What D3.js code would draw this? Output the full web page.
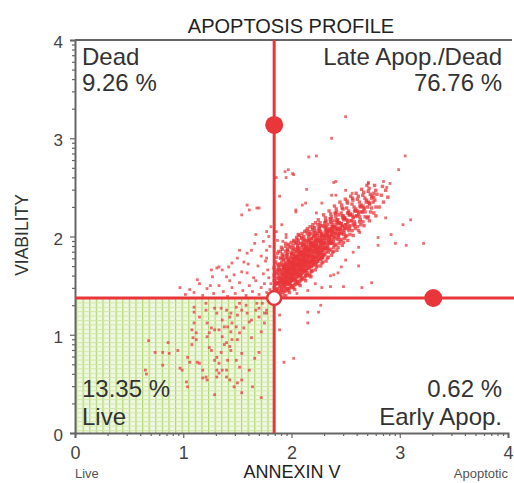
<!DOCTYPE html>
<html><head><meta charset="utf-8">
<script src="https://cdn.jsdelivr.net/npm/d3@7"></script>
<style>html,body{margin:0;padding:0;background:#fff;}svg{display:block;}</style>
</head><body>
<svg id="c" width="514" height="483"></svg>
<script>
const title = "APOPTOSIS PROFILE";
const xLabel = "ANNEXIN V";
const yLabel = "VIABILITY";
const xEndLabels = ["Live", "Apoptotic"];
const majorTicks = [0,1,2,3,4];
const quadGate = {x:1.84, y:1.374};
const handles = [[1.84,3.135],[3.31,1.374]];
const quadLabels = [
  {name:"Dead", pct:"9.26 %", pos:"tl"},
  {name:"Late Apop./Dead", pct:"76.76 %", pos:"tr"},
  {name:"Live", pct:"13.35 %", pos:"bl"},
  {name:"Early Apop.", pct:"0.62 %", pos:"br"}
];
const corePts = [
[1.84,1.42],[1.85,1.51],[1.86,1.46],[1.87,1.58],[1.84,1.55],[1.88,1.40],[1.89,1.49],[1.86,1.62],[1.85,1.44],[1.88,1.53],[1.87,1.47],[1.89,1.60],[1.84,1.48],[1.90,1.43],[1.86,1.52],[1.88,1.66],[1.85,1.39],[1.89,1.55],[1.87,1.41],[1.90,1.51],[1.84,1.61],[1.86,1.45],[1.88,1.57],[1.89,1.45],[1.87,1.53],
[1.91,1.46],[1.92,1.58],[1.93,1.51],[1.94,1.67],[1.91,1.62],[1.92,1.43],[1.93,1.55],[1.94,1.49],[1.95,1.60],[1.91,1.53],[1.92,1.70],[1.93,1.40],[1.94,1.57],[1.95,1.47],[1.91,1.66],[1.92,1.52],[1.93,1.63],[1.94,1.44],[1.95,1.55],[1.91,1.49],[1.92,1.61],[1.93,1.48],[1.94,1.72],[1.95,1.52],[1.92,1.55],[1.93,1.69],[1.94,1.53],[1.91,1.57],[1.95,1.65],[1.93,1.45],
[1.96,1.51],[1.97,1.64],[1.98,1.56],[1.99,1.73],[1.96,1.68],[1.97,1.45],[1.98,1.60],[1.99,1.53],[2.00,1.66],[1.96,1.58],[1.97,1.76],[1.98,1.47],[1.99,1.62],[2.00,1.55],[1.96,1.71],[1.97,1.57],[1.98,1.69],[1.99,1.49],[2.00,1.61],[1.96,1.54],[1.97,1.67],[1.98,1.52],[1.99,1.79],[2.00,1.58],[1.97,1.61],[1.98,1.74],[1.99,1.58],[1.96,1.63],[2.00,1.72],[1.98,1.43],[1.97,1.53],[1.99,1.67],[1.96,1.46],[2.00,1.50],[1.98,1.64],
[2.01,1.55],[2.02,1.69],[2.03,1.61],[2.04,1.79],[2.01,1.73],[2.02,1.48],[2.03,1.65],[2.04,1.57],[2.05,1.71],[2.01,1.62],[2.02,1.82],[2.03,1.51],[2.04,1.67],[2.05,1.59],[2.01,1.77],[2.02,1.61],[2.03,1.74],[2.04,1.52],[2.05,1.66],[2.01,1.58],[2.02,1.72],[2.03,1.56],[2.04,1.85],[2.05,1.63],[2.02,1.66],[2.03,1.80],[2.04,1.62],[2.01,1.68],[2.05,1.77],[2.03,1.46],[2.02,1.57],[2.04,1.72],[2.01,1.50],[2.05,1.54],[2.03,1.69],
[2.06,1.59],[2.07,1.73],[2.08,1.65],[2.09,1.83],[2.06,1.77],[2.07,1.52],[2.08,1.69],[2.09,1.61],[2.10,1.75],[2.06,1.66],[2.07,1.87],[2.08,1.55],[2.09,1.71],[2.10,1.63],[2.06,1.81],[2.07,1.65],[2.08,1.78],[2.09,1.56],[2.10,1.70],[2.06,1.62],[2.07,1.76],[2.08,1.60],[2.09,1.89],[2.10,1.67],[2.07,1.70],[2.08,1.84],[2.09,1.66],[2.06,1.72],[2.10,1.81],[2.08,1.50],[2.07,1.61],[2.09,1.76],[2.06,1.54],[2.10,1.58],[2.08,1.73],
[2.11,1.64],[2.12,1.78],[2.13,1.70],[2.14,1.88],[2.11,1.82],[2.12,1.57],[2.13,1.74],[2.14,1.66],[2.15,1.80],[2.11,1.71],[2.12,1.92],[2.13,1.60],[2.14,1.76],[2.15,1.68],[2.11,1.86],[2.12,1.70],[2.13,1.83],[2.14,1.61],[2.15,1.75],[2.11,1.67],[2.12,1.81],[2.13,1.65],[2.14,1.94],[2.15,1.72],[2.12,1.75],[2.13,1.89],[2.14,1.71],[2.11,1.77],[2.15,1.86],[2.13,1.55],[2.12,1.66],[2.14,1.81],
[2.16,1.68],[2.17,1.82],[2.18,1.74],[2.19,1.92],[2.16,1.86],[2.17,1.61],[2.18,1.78],[2.19,1.70],[2.20,1.84],[2.16,1.75],[2.17,1.96],[2.18,1.64],[2.19,1.80],[2.20,1.72],[2.16,1.90],[2.17,1.74],[2.18,1.87],[2.19,1.65],[2.20,1.79],[2.16,1.71],[2.17,1.85],[2.18,1.69],[2.19,1.98],[2.20,1.76],[2.17,1.79],[2.18,1.93],[2.19,1.75],[2.16,1.81],[2.20,1.90],[2.18,1.59],
[2.21,1.73],[2.22,1.87],[2.23,1.79],[2.24,1.97],[2.21,1.91],[2.22,1.66],[2.23,1.83],[2.24,1.75],[2.25,1.89],[2.21,1.80],[2.22,2.01],[2.23,1.69],[2.24,1.85],[2.25,1.77],[2.21,1.95],[2.22,1.79],[2.23,1.92],[2.24,1.70],[2.25,1.84],[2.21,1.76],[2.22,1.90],[2.23,1.74],[2.24,2.03],[2.25,1.81],[2.23,1.86],
[2.26,1.77],[2.27,1.91],[2.28,1.83],[2.29,2.01],[2.26,1.95],[2.27,1.70],[2.28,1.87],[2.29,1.79],[2.30,1.93],[2.26,1.84],[2.27,2.05],[2.28,1.73],[2.29,1.89],[2.30,1.81],[2.26,1.99],[2.27,1.83],[2.28,1.96],[2.29,1.74],[2.30,1.88],[2.26,1.80],[2.27,1.94],[2.28,1.78],
[2.31,1.82],[2.32,1.96],[2.33,1.88],[2.34,2.06],[2.31,2.00],[2.32,1.75],[2.33,1.92],[2.34,1.84],[2.35,1.98],[2.31,1.89],[2.32,2.10],[2.33,1.78],[2.34,1.94],[2.35,1.86],[2.31,2.04],[2.32,1.88],[2.33,2.01],[2.34,1.79],[2.35,1.93],[2.32,1.85],
[2.36,1.87],[2.37,2.01],[2.38,1.93],[2.39,2.10],[2.36,2.05],[2.37,1.81],[2.38,1.97],[2.39,1.89],[2.40,2.03],[2.36,1.94],[2.37,2.14],[2.38,1.84],[2.39,1.99],[2.40,1.91],[2.36,2.08],[2.37,1.93],[2.38,2.06],[2.39,1.85],
[2.41,1.92],[2.42,2.05],[2.43,1.97],[2.44,2.14],[2.41,2.09],[2.42,1.86],[2.43,2.01],[2.44,1.93],[2.45,2.07],[2.41,1.98],[2.42,2.17],[2.43,1.89],[2.44,2.03],[2.45,1.95],[2.41,2.12],[2.43,2.08],
[2.46,1.97],[2.47,2.10],[2.48,2.02],[2.49,2.18],[2.46,2.13],[2.47,1.91],[2.48,2.06],[2.49,1.98],[2.50,2.12],[2.46,2.03],[2.47,2.21],[2.48,1.94],[2.49,2.08],[2.50,2.00],
[2.51,2.01],[2.52,2.14],[2.53,2.06],[2.54,2.22],[2.51,2.17],[2.52,1.96],[2.53,2.10],[2.54,2.02],[2.55,2.16],[2.51,2.08],[2.52,2.24],[2.54,2.11],
[2.56,2.06],[2.57,2.19],[2.58,2.11],[2.59,2.26],[2.56,2.22],[2.57,2.01],[2.58,2.15],[2.59,2.08],[2.60,2.21],[2.57,2.12],
[2.61,2.10],[2.62,2.23],[2.63,2.15],[2.64,2.30],[2.61,2.26],[2.62,2.06],[2.63,2.20],[2.64,2.12],[2.65,2.25],
[2.66,2.15],[2.67,2.28],[2.68,2.20],[2.69,2.35],[2.66,2.31],[2.67,2.11],[2.68,2.25],[2.70,2.19],
[2.71,2.20],[2.72,2.33],[2.73,2.25],[2.74,2.39],[2.71,2.35],[2.72,2.16],[2.74,2.29],
[2.76,2.24],[2.77,2.37],[2.78,2.30],[2.79,2.43],[2.76,2.40],[2.78,2.21],
[2.81,2.30],[2.83,2.42],[2.85,2.35],[2.87,2.47],[2.84,2.51],[2.89,2.40]
];
const corePts2 = [
[1.842,1.59],[1.868,1.66],[1.853,1.74],[1.877,1.70],[1.838,1.68],[1.862,1.79],[1.881,1.62],[1.849,1.55],[1.871,1.83],[1.857,1.64],
[1.893,1.64],[1.917,1.79],[1.904,1.57],[1.928,1.71],[1.897,1.85],[1.921,1.61],[1.909,1.74],[1.886,1.69],[1.932,1.67],[1.913,1.82],[1.899,1.54],[1.924,1.77],[1.907,1.89],[1.891,1.72],[1.919,1.66],
[1.943,1.69],[1.967,1.84],[1.954,1.62],[1.978,1.76],[1.947,1.90],[1.971,1.66],[1.959,1.79],[1.936,1.54],[1.982,1.72],[1.963,1.87],[1.949,1.59],[1.974,1.74],[1.957,1.82],[1.941,1.64],[1.969,1.70],[1.952,1.78],[1.977,1.52],[1.945,1.85],[1.961,1.67],[1.972,1.92],
[1.993,1.73],[2.017,1.88],[2.004,1.66],[2.028,1.80],[1.997,1.94],[2.021,1.70],[2.009,1.83],[1.986,1.58],[2.032,1.76],[2.013,1.91],[1.999,1.63],[2.024,1.78],[2.007,1.86],[1.991,1.68],[2.019,1.74],[2.002,1.82],[2.027,1.56],[1.995,1.89],[2.011,1.71],[2.022,1.96],[2.015,1.65],[2.005,1.75],
[2.043,1.78],[2.067,1.93],[2.054,1.71],[2.078,1.85],[2.047,1.99],[2.071,1.75],[2.059,1.88],[2.036,1.63],[2.082,1.81],[2.063,1.96],[2.049,1.68],[2.074,1.83],[2.057,1.91],[2.041,1.73],[2.069,1.79],[2.052,1.87],[2.077,1.61],[2.045,1.94],[2.061,1.76],[2.072,2.01],[2.065,1.70],[2.055,1.80],
[2.093,1.82],[2.117,1.97],[2.104,1.75],[2.128,1.89],[2.097,2.03],[2.121,1.79],[2.109,1.92],[2.086,1.67],[2.132,1.85],[2.113,2.00],[2.099,1.72],[2.124,1.87],[2.107,1.95],[2.091,1.77],[2.119,1.83],[2.102,1.91],[2.127,1.65],[2.095,1.98],[2.111,1.80],[2.122,2.05],[2.115,1.74],[2.105,1.84],
[2.143,1.87],[2.167,2.02],[2.154,1.80],[2.178,1.94],[2.147,2.08],[2.171,1.84],[2.159,1.97],[2.136,1.72],[2.182,1.90],[2.163,2.05],[2.149,1.77],[2.174,1.92],[2.157,2.00],[2.141,1.82],[2.169,1.88],[2.152,1.96],[2.177,1.70],[2.145,2.03],[2.161,1.85],[2.172,2.10],
[2.193,1.91],[2.217,2.06],[2.204,1.84],[2.228,1.98],[2.197,2.12],[2.221,1.88],[2.209,2.01],[2.186,1.76],[2.232,1.94],[2.213,2.09],[2.199,1.81],[2.224,1.96],[2.207,2.04],[2.191,1.86],[2.219,1.92],[2.202,2.00],[2.227,1.74],[2.195,2.07],[2.211,1.89],[2.222,2.14],
[2.243,1.96],[2.267,2.11],[2.254,1.89],[2.278,2.03],[2.247,2.17],[2.271,1.93],[2.259,2.06],[2.236,1.81],[2.282,1.99],[2.263,2.14],[2.249,1.86],[2.274,2.01],[2.257,2.09],[2.241,1.91],[2.269,1.97],[2.252,2.05],[2.277,1.79],[2.245,2.12],
[2.293,2.01],[2.317,2.16],[2.304,1.94],[2.328,2.08],[2.297,2.22],[2.321,1.98],[2.309,2.11],[2.286,1.86],[2.332,2.04],[2.313,2.19],[2.299,1.91],[2.324,2.06],[2.307,2.14],[2.291,1.96],[2.319,2.02],[2.302,2.10],
[2.343,2.05],[2.367,2.20],[2.354,1.98],[2.378,2.12],[2.347,2.26],[2.371,2.02],[2.359,2.15],[2.336,1.90],[2.382,2.08],[2.363,2.23],[2.349,1.95],[2.374,2.10],[2.357,2.18],[2.341,2.00],[2.369,2.06],
[2.393,2.10],[2.417,2.25],[2.404,2.03],[2.428,2.17],[2.397,2.31],[2.421,2.07],[2.409,2.20],[2.386,1.95],[2.432,2.13],[2.413,2.28],[2.399,2.00],[2.424,2.15],[2.407,2.23],[2.391,2.05],
[2.443,2.14],[2.467,2.29],[2.454,2.07],[2.478,2.21],[2.447,2.35],[2.471,2.11],[2.459,2.24],[2.436,1.99],[2.482,2.17],[2.463,2.32],[2.449,2.04],[2.474,2.19],
[2.493,2.19],[2.517,2.34],[2.504,2.12],[2.528,2.26],[2.497,2.38],[2.521,2.16],[2.509,2.29],[2.486,2.04],[2.532,2.22],[2.513,2.36],[2.499,2.09],[2.524,2.24],
[2.543,2.23],[2.567,2.37],[2.554,2.16],[2.578,2.30],[2.547,2.41],[2.571,2.20],[2.559,2.33],[2.536,2.08],[2.582,2.26],[2.563,2.39],
[2.593,2.28],[2.617,2.41],[2.604,2.21],[2.628,2.35],[2.597,2.44],[2.621,2.25],[2.609,2.38],[2.586,2.13],[2.632,2.31],
[2.643,2.32],[2.667,2.45],[2.654,2.25],[2.678,2.39],[2.647,2.48],[2.671,2.29],[2.659,2.42],[2.636,2.17],
[2.693,2.37],[2.717,2.49],[2.704,2.30],[2.728,2.43],[2.697,2.52],[2.721,2.34],[2.709,2.46],
[2.743,2.41],[2.767,2.52],[2.754,2.35],[2.778,2.47],[2.761,2.44]
];
const corePts3 = [
[1.903,1.47],[2.087,1.93],[1.958,1.81],[2.231,1.78],[2.146,1.63],[1.927,1.76],[2.312,2.07],[2.054,1.52],[2.178,2.03],[1.986,1.69],[2.269,1.90],[2.113,1.81],[1.944,1.58],[2.391,2.16],[2.029,1.87],[2.205,1.71],[1.889,1.66],[2.161,1.94],[2.347,1.95],[2.071,1.60],[1.968,1.47],[2.253,2.08],[2.124,1.69],[2.018,1.77],[2.438,2.22],[1.915,1.87],[2.196,1.86],[2.283,1.79],[2.062,2.02],[1.951,1.72],[2.137,2.06],[2.374,2.04],[2.008,1.48],[2.227,1.97],[1.896,1.58],[2.169,1.72],[2.095,1.57],[2.302,1.98],[1.979,1.90],[2.046,1.64],[2.415,2.08],[2.188,1.65],[1.934,1.51],[2.258,1.82],[2.117,1.88],[2.033,1.71],[2.476,2.28],[1.961,1.63],[2.213,1.91],[2.081,1.76],[2.336,2.12],[1.907,1.71],[2.152,1.79],[2.024,1.95],[2.291,1.86],[1.993,1.56],[2.239,2.01],[2.068,1.85],[2.361,2.01],[1.918,1.63],[2.133,1.60],[2.184,1.98],[2.011,1.62],[2.457,2.13],[1.946,1.93],[2.276,2.02],[2.104,1.66],[2.221,1.84],[2.057,1.89],[1.973,1.77],[2.327,1.88],[2.141,1.91],[1.882,1.52],[2.196,2.09],[2.038,1.55],[2.403,2.24],[1.939,1.68],[2.264,1.95],[2.092,1.99],[2.159,1.68],[1.999,1.83],[2.317,2.15],[2.076,1.68],[2.245,1.75],[1.956,1.54],[2.127,1.96],[2.381,2.09],[2.016,1.66],[2.209,1.77],[1.924,1.81],[2.286,1.93],[2.099,1.85],[2.173,1.87],[2.041,1.80],[2.432,2.02],[1.984,1.62],[2.234,1.88],[2.115,1.73],[1.963,1.86],[2.352,2.07],[2.058,1.75],[2.192,1.74],[1.911,1.55],[2.297,1.82],[2.083,1.63],[2.148,1.85],[2.022,1.59],[2.488,2.19],[1.948,1.74],[2.261,1.87],[2.107,1.92],[2.181,1.81],[2.035,1.93],[2.339,2.00],[1.976,1.52],[2.216,2.04],[2.066,1.72],[2.421,2.15],[1.898,1.78],[2.135,1.75],[2.271,1.77],[2.003,1.79],[2.166,1.60],[2.308,1.93],[1.937,1.60],[2.089,1.71],[2.247,1.95],[2.051,1.97],[2.199,1.94],[1.989,1.74],[2.365,2.18],[2.121,1.64],[1.928,1.69],[2.282,2.11],[2.073,1.82],[2.155,1.73],[2.013,1.70],[2.447,2.09],[1.967,1.65],[2.224,1.72],[2.109,1.78],[2.331,2.03],[2.044,1.84],[2.186,1.91]
];
const lateScatter = [
[2.50,3.22],[2.37,3.00],[2.16,2.81],[2.23,2.82],[3.05,2.82],[2.99,2.68],[1.94,2.66],[1.97,2.68],[2.01,2.64],[2.41,2.56],[2.14,2.48],[1.89,2.41],[2.71,2.55],[2.85,2.56],[2.91,2.54],[2.88,2.50],[1.86,2.60],
[2.10,2.32],[2.04,2.25],[2.28,2.34],[2.37,2.42],[2.87,2.19],[3.03,2.12],[3.10,2.17],[2.80,1.99],[2.80,1.91],[2.92,2.02],[2.96,1.93],[3.06,1.91],[2.63,2.04],[2.57,1.84],[2.62,1.89],[2.62,1.70],[2.74,1.53],[2.65,1.48],[2.48,1.49],[2.36,1.49],[2.28,1.48],[2.50,1.76],[2.46,1.69],[2.39,1.61],[3.22,1.93],[2.36,1.60],[2.43,1.63],
[2.15,1.45],[2.22,1.52],[2.05,1.42],[1.95,1.40],[1.88,1.85],[1.92,1.95],[1.86,2.05],[1.90,1.78],[1.95,2.02],[1.87,1.72],[1.91,2.12],[1.87,1.96],[1.95,1.99],[1.95,2.60],[2.02,2.63],[2.04,2.27],[2.13,2.34],[2.23,2.24],[2.39,2.55],[2.41,2.42],[2.50,2.47],[2.56,2.44],[2.71,2.54]
];
const deadPts = [
[1.59,2.32],[1.61,2.27],[1.68,2.29],[1.54,2.22],[1.67,2.02],[1.66,1.93],[1.63,1.86],[1.52,1.86],[1.59,1.83],[1.56,1.74],[1.50,1.78],[1.45,1.73],[1.42,1.69],[1.26,1.66],[1.31,1.68],[1.36,1.66],[1.27,1.59],[1.13,1.56],[1.40,1.59],[1.47,1.61],[1.54,1.64],[1.59,1.63],[0.97,1.48],[1.06,1.46],[1.70,2.29],[1.33,1.69],
[1.02,1.41],[1.10,1.43],[1.18,1.40],[1.22,1.47],[1.28,1.42],[1.33,1.50],[1.37,1.44],[1.41,1.39],[1.45,1.48],[1.48,1.42],[1.52,1.53],[1.55,1.45],[1.58,1.40],[1.61,1.50],[1.64,1.44],[1.67,1.55],[1.70,1.41],[1.72,1.48],[1.75,1.52],[1.77,1.43],[1.79,1.58],[1.80,1.46],[1.74,1.62],[1.69,1.70],[1.76,1.75],[1.78,1.66],[1.81,1.52],[1.72,1.80],[1.80,1.90],[1.65,1.58],[1.43,1.55],[1.25,1.50],[1.15,1.52],[1.60,1.72],[1.77,2.05],[1.74,1.95],[1.81,2.10],[1.79,2.00],[1.77,1.86],[1.77,1.78]
];
const livePts = [
[0.68,0.94],[0.65,0.64],[0.86,0.92],[0.81,0.82],[0.87,0.81],[0.95,0.84],[0.97,0.66],[0.99,0.64],[1.04,0.77],[1.04,0.47],[1.08,1.05],[1.09,0.97],[1.12,0.95],[1.08,0.90],[1.15,1.18],[1.15,0.71],[1.18,0.64],[1.10,1.23],[1.10,1.28],[1.21,1.25],[1.22,1.12],[1.24,1.02],[1.26,0.84],[1.21,0.57],[1.22,0.54],[1.29,1.05],[1.31,0.77],[1.33,0.71],[1.29,0.39],[1.35,1.27],[1.36,1.15],[1.38,1.08],[1.40,0.92],[1.36,0.64],[1.40,0.57],[1.44,1.22],[1.45,1.12],[1.44,0.84],[1.49,0.74],[1.47,0.47],[1.52,1.32],[1.54,1.25],[1.54,0.54],[1.54,0.41],[1.59,1.22],[1.63,1.15],[1.67,1.25],[1.70,1.18],[1.72,0.36],[1.73,1.32],[1.77,1.22],
[0.74,0.82],[0.81,0.69],[1.03,0.52],[1.06,0.72],[1.10,1.12],[1.12,1.02],[1.13,0.72],[1.18,0.56],[1.21,1.32],[1.26,1.07],[1.22,0.98],[1.24,0.87],[1.29,0.74],[1.31,0.64],[1.33,0.61],[1.31,0.57],[1.29,1.27],[1.31,1.22],[1.33,1.05],[1.36,0.98],[1.38,0.90],[1.35,0.82],[1.40,1.25],[1.43,1.18],[1.41,1.08],[1.44,1.03],[1.45,0.95],[1.43,0.88],[1.41,0.74],[1.40,0.64],[1.43,0.54],[1.49,1.28],[1.50,1.20],[1.49,1.08],[1.52,1.02],[1.50,0.95],[1.54,0.81],[1.52,0.67],[1.50,0.51],[1.58,1.30],[1.61,1.13],[1.56,1.07],[1.63,0.97],[1.66,0.76],[1.61,0.64],[1.64,0.47],[1.68,1.32],[1.70,1.27],[1.75,1.12],[1.72,1.03],[1.70,0.82],[1.77,1.25],[1.75,1.22],[0.66,0.60]
];
const earlyPts = [[2.15,1.23],[2.25,1.23],[2.15,1.12],[1.89,1.20],[1.89,1.05],[1.93,0.72],[2.02,0.76],[2.27,1.30]];

const svg = d3.select("#c");
const x = d3.scaleLinear().domain([0,4]).range([75,508]);
const y = d3.scaleLinear().domain([0,4]).range([433,40]);
const red = "#e8363a";
const font = "Arial, 'Liberation Sans', sans-serif";

// pattern for live gate
const defs = svg.append("defs");
const pat = defs.append("pattern").attr("id","grid").attr("patternUnits","userSpaceOnUse")
  .attr("x", x(0)+1).attr("y", y(quadGate.y)).attr("width",6.6).attr("height",4.4);
pat.append("rect").attr("width",6.6).attr("height",4.4).attr("fill","#f1f8e2");
pat.append("rect").attr("x",0).attr("y",0).attr("width",1.2).attr("height",4.4).attr("fill","#add46f");
pat.append("rect").attr("x",0).attr("y",0).attr("width",6.6).attr("height",1).attr("fill","#d0e8a6");

svg.append("rect").attr("x",x(0)).attr("y",y(quadGate.y))
  .attr("width",x(quadGate.x)-x(0)).attr("height",y(0)-y(quadGate.y)).attr("fill","url(#grid)");

// minor (log-decade) ticks
const minor = [];
for (let d=0; d<4; d++) for (let k=2; k<=9; k++) minor.push(d+Math.log10(k));

const axCol = "#666";
const gx = svg.append("g").attr("transform",`translate(0,${y(0)})`)
  .call(d3.axisBottom(x).tickValues(majorTicks).tickSize(5).tickPadding(8).tickFormat(d3.format("d")));
const gxm = svg.append("g").attr("transform",`translate(0,${y(0)})`)
  .call(d3.axisBottom(x).tickValues(minor).tickSize(3).tickFormat(""));
const gy = svg.append("g").attr("transform",`translate(${x(0)},0)`)
  .call(d3.axisLeft(y).tickValues(majorTicks).tickSize(5).tickPadding(7).tickFormat(d3.format("d")));
const gym = svg.append("g").attr("transform",`translate(${x(0)},0)`)
  .call(d3.axisLeft(y).tickValues(minor).tickSize(3).tickFormat(""));
[gx,gxm,gy,gym].forEach(g=>{
  g.select(".domain").attr("stroke",axCol).attr("stroke-width",2);
  g.selectAll(".tick line").attr("stroke",axCol).attr("stroke-width",1.2);
  g.selectAll(".tick text").attr("fill","#444").attr("font-size",18).attr("font-family",font);
});
gy.selectAll(".tick text").attr("font-size",17).attr("dy","0.45em");
gym.select(".domain").remove(); gxm.select(".domain").remove();
// top border
svg.append("line").attr("x1",x(0)).attr("x2",x(4)+4).attr("y1",y(4)).attr("y2",y(4))
  .attr("stroke",axCol).attr("stroke-width",2);

// points
const pg = svg.append("g");
[livePts, deadPts, earlyPts, lateScatter].forEach(set=>{
  pg.selectAll(null).data(set).enter().append("rect")
    .attr("x",d=>x(d[0])-1.4).attr("y",d=>y(d[1])-1.4)
    .attr("width",2.8).attr("height",2.8)
    .attr("fill",red).attr("fill-opacity",0.72);
});
[corePts, corePts2, corePts3].forEach(set=>{
  pg.selectAll(null).data(set).enter().append("rect")
    .attr("x",d=>x(d[0])-1.7).attr("y",d=>y(d[1])-1.7)
    .attr("width",3.4).attr("height",3.4)
    .attr("fill",red).attr("fill-opacity",0.75);
});

// gate lines
svg.append("line").attr("x1",x(quadGate.x)).attr("x2",x(quadGate.x)).attr("y1",y(4)).attr("y2",y(0))
  .attr("stroke",red).attr("stroke-width",3);
svg.append("line").attr("x1",x(0)).attr("x2",514).attr("y1",y(quadGate.y)).attr("y2",y(quadGate.y))
  .attr("stroke",red).attr("stroke-width",3);
svg.selectAll(null).data(handles).enter().append("circle")
  .attr("cx",d=>x(d[0])).attr("cy",d=>y(d[1])).attr("r",9).attr("fill",red);
svg.append("circle").attr("cx",x(quadGate.x)).attr("cy",y(quadGate.y)).attr("r",7)
  .attr("fill","#fff").attr("stroke",red).attr("stroke-width",2.5);

// texts
const tcol = "#333";
svg.append("text").attr("x",291).attr("y",33).attr("text-anchor","middle")
  .attr("font-family",font).attr("font-size",20).attr("fill","#222").text(title);
svg.append("text").attr("x",292).attr("y",478).attr("text-anchor","middle")
  .attr("font-family",font).attr("font-size",18).attr("fill","#222").text(xLabel);
svg.append("text").attr("x",75).attr("y",478).attr("text-anchor","start")
  .attr("font-family",font).attr("font-size",13).attr("fill","#555").text(xEndLabels[0]);
svg.append("text").attr("x",508).attr("y",478).attr("text-anchor","end")
  .attr("font-family",font).attr("font-size",13).attr("fill","#555").text(xEndLabels[1]);
svg.append("text").attr("transform","translate(28,235) rotate(-90)").attr("text-anchor","middle")
  .attr("font-family",font).attr("font-size",17.5).attr("fill","#333").text(yLabel);

const lpos = {tl:{x:82,y1:65,y2:91,a:"start"}, tr:{x:502,y1:65,y2:91,a:"end"},
              bl:{x:82,y1:425,y2:397,a:"start"}, br:{x:502,y1:425,y2:397,a:"end"}};
quadLabels.forEach(q=>{
  const p = lpos[q.pos];
  svg.append("text").attr("x",p.x).attr("y",p.y1).attr("text-anchor",p.a)
    .attr("font-family",font).attr("font-size",24).attr("fill",tcol).text(q.name);
  svg.append("text").attr("x",p.x).attr("y",p.y2).attr("text-anchor",p.a)
    .attr("font-family",font).attr("font-size",24).attr("fill",tcol).text(q.pct);
});
</script>
</body></html>
